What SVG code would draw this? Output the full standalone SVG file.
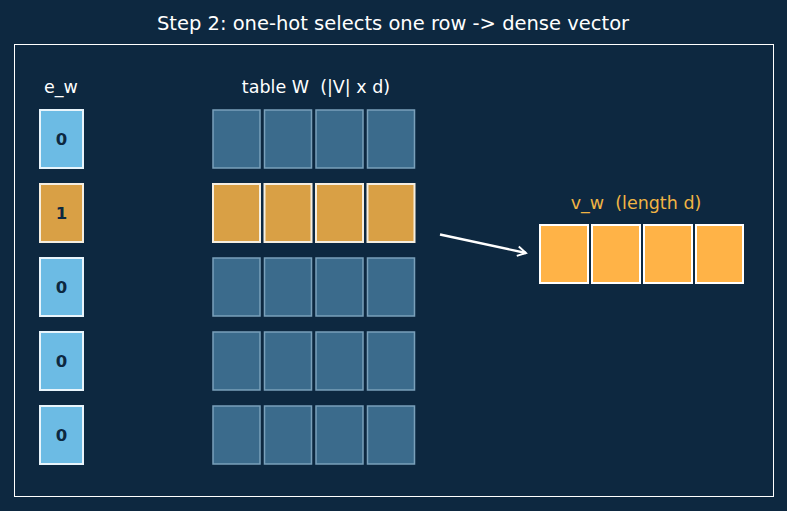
<svg xmlns="http://www.w3.org/2000/svg" width="787" height="511" viewBox="0 0 787 511">
<defs>
<style>
text{font-family:"DejaVu Sans",sans-serif;white-space:pre;}
.t{fill:#ffffff;font-size:17.5px;text-anchor:middle;}
.oh{fill:#6cbbe4;stroke:#e8f4fb;stroke-width:2;}
.ohs{fill:#d9a045;stroke:#f5eee0;stroke-width:2;}
.d{fill:#0d2840;font-size:16.5px;font-weight:bold;text-anchor:middle;}
.w{fill:#3b6b8c;stroke:#7aa0ba;stroke-width:1.5;}
.ws{fill:#d9a045;stroke:#f5eee0;stroke-width:2;}
.v{fill:#ffb347;stroke:#ffffff;stroke-width:2;}
</style>
<marker id="ah" viewBox="0 0 10 10" refX="8" refY="5" markerWidth="5" markerHeight="5" orient="auto" markerUnits="strokeWidth">
<path d="M1,1 L8,5 L1,9" fill="none" stroke="#ffffff" stroke-width="1.6"/>
</marker>
</defs>
<rect width="787" height="511" fill="#0d2840"/>
<text class="t" x="393" y="30" style="font-size:19.5px">Step 2: one-hot selects one row -&gt; dense vector</text>
<rect x="14.5" y="44.5" width="759" height="452" fill="none" stroke="#ffffff" stroke-width="1"/>
<text class="t" x="61" y="93">e_w</text>
<text class="t" x="316" y="93" xml:space="preserve">table W  (|V| x d)</text>
<text x="636" y="209" xml:space="preserve" style="fill:#f0b444;font-size:17.5px;text-anchor:middle">v_w  (length d)</text>
<g id="onehot">
<rect class="oh" x="40" y="110" width="43" height="58"/><text class="d" x="61.5" y="145">0</text>
<rect class="ohs" x="40" y="184" width="43" height="58"/><text class="d" x="61.5" y="219">1</text>
<rect class="oh" x="40" y="258" width="43" height="58"/><text class="d" x="61.5" y="293">0</text>
<rect class="oh" x="40" y="332" width="43" height="58"/><text class="d" x="61.5" y="367">0</text>
<rect class="oh" x="40" y="406" width="43" height="58"/><text class="d" x="61.5" y="441">0</text>
</g>
<g id="table">
<rect class="w" x="213" y="110" width="47" height="58"/><rect class="w" x="264.5" y="110" width="47" height="58"/><rect class="w" x="316" y="110" width="47" height="58"/><rect class="w" x="367.5" y="110" width="47" height="58"/>
<rect class="ws" x="213" y="184" width="47" height="58"/><rect class="ws" x="264.5" y="184" width="47" height="58"/><rect class="ws" x="316" y="184" width="47" height="58"/><rect class="ws" x="367.5" y="184" width="47" height="58"/>
<rect class="w" x="213" y="258" width="47" height="58"/><rect class="w" x="264.5" y="258" width="47" height="58"/><rect class="w" x="316" y="258" width="47" height="58"/><rect class="w" x="367.5" y="258" width="47" height="58"/>
<rect class="w" x="213" y="332" width="47" height="58"/><rect class="w" x="264.5" y="332" width="47" height="58"/><rect class="w" x="316" y="332" width="47" height="58"/><rect class="w" x="367.5" y="332" width="47" height="58"/>
<rect class="w" x="213" y="406" width="47" height="58"/><rect class="w" x="264.5" y="406" width="47" height="58"/><rect class="w" x="316" y="406" width="47" height="58"/><rect class="w" x="367.5" y="406" width="47" height="58"/>
</g>
<g id="vw">
<rect class="v" x="540" y="225" width="48" height="58"/><rect class="v" x="592" y="225" width="48" height="58"/><rect class="v" x="644" y="225" width="48" height="58"/><rect class="v" x="696" y="225" width="47" height="58"/>
</g>
<g id="connectors">
<line x1="440" y1="234.5" x2="526" y2="253" stroke="#ffffff" stroke-width="2.4" marker-end="url(#ah)"/>
</g>
</svg>
